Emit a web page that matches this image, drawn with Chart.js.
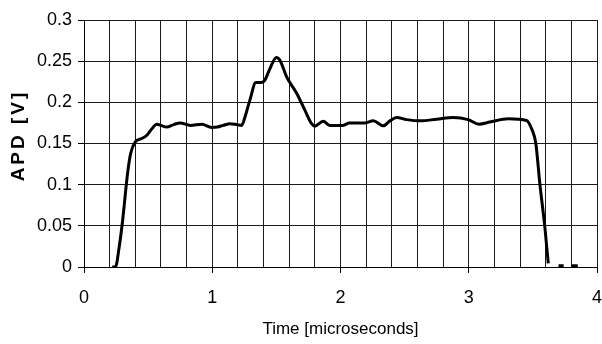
<!DOCTYPE html>
<html><head><meta charset="utf-8">
<script src="https://cdn.jsdelivr.net/npm/chart.js@4/dist/chart.umd.min.js"></script>
<style>html,body{margin:0;padding:0;background:#fff;}#wrap{width:602px;height:344px;position:relative}</style>
</head><body><div id="wrap"><canvas id="c"></canvas></div>
<script>
const timeUs = [0.22, 0.245, 0.275, 0.30, 0.34, 0.364, 0.40, 0.45, 0.49, 0.53, 0.567, 0.60, 0.645, 0.70, 0.75, 0.83, 0.92, 0.995, 1.04, 1.086, 1.138, 1.19, 1.229, 1.255, 1.294, 1.34, 1.385, 1.41, 1.45, 1.50, 1.528, 1.58, 1.658, 1.722, 1.775, 1.80, 1.865, 1.917, 2.02, 2.07, 2.19, 2.255, 2.333, 2.385, 2.437, 2.515, 2.62, 2.75, 2.88, 2.995, 3.08, 3.164, 3.307, 3.45, 3.49, 3.523, 3.554, 3.593, 3.62, 3.65, 3.70, 3.74, 3.77, 3.80, 3.85];
const apdV = [0, 0, 0.025, 0.055, 0.114, 0.138, 0.152, 0.156, 0.160, 0.168, 0.1735, 0.172, 0.170, 0.173, 0.175, 0.172, 0.1735, 0.1695, 0.170, 0.172, 0.174, 0.173, 0.172, 0.182, 0.203, 0.224, 0.224, 0.227, 0.241, 0.2545, 0.251, 0.231, 0.211, 0.1905, 0.174, 0.171, 0.177, 0.172, 0.172, 0.175, 0.175, 0.1775, 0.1715, 0.1775, 0.1815, 0.179, 0.1775, 0.1795, 0.1815, 0.179, 0.1735, 0.176, 0.180, 0.178, 0.168, 0.150, 0.1015, 0.049, 0.0045, null, 0.0015, 0.0015, null, 0.0015, 0.0015];
const xTickLabels = ['0', '1', '2', '3', '4'];
const yTickLabels = ['0', '0.05', '0.1', '0.15', '0.2', '0.25', '0.3'];
const xTitle = 'Time [microseconds]';
const yTitle = 'APD [V]';

const points = timeUs.map((t, i) => ({x: t, y: apdV[i]}));
const FONT = '"Liberation Sans", Arial, sans-serif';
const isInt = v => Math.abs(v - Math.round(v)) < 1e-6;

const titlesPlugin = {
  id: 'titles',
  afterDraw(chart) {
    const ctx = chart.ctx;
    const a = chart.chartArea;
    ctx.save();
    ctx.fillStyle = '#000';
    ctx.font = '17px ' + FONT;
    ctx.textAlign = 'center';
    ctx.textBaseline = 'middle';
    ctx.fillText(xTitle, (a.left + a.right) / 2, 329);
    ctx.translate(19, 137);
    ctx.rotate(-Math.PI / 2);
    ctx.font = 'bold 19px ' + FONT;
    try { ctx.letterSpacing = '3px'; } catch (e) {}
    ctx.fillText(yTitle, 1.5, 0);
    ctx.restore();
  }
};

new Chart(document.getElementById('c'), {
  type: 'line',
  data: {datasets: [{data: points, borderColor: '#000', borderWidth: 3, pointRadius: 0, cubicInterpolationMode: 'monotone', fill: false, spanGaps: false}]},
  options: {
    responsive: true, maintainAspectRatio: false, animation: false,
    layout: {padding: {top: 20, right: 5, left: 0, bottom: 0}},
    plugins: {legend: {display: false}, tooltip: {enabled: false}},
    scales: {
      x: {
        type: 'linear', min: 0, max: 4,
        afterFit(s) { s.height = 77; s.paddingLeft = 0; s.paddingRight = 0; },
        border: {color: '#000', width: 1},
        grid: {color: '#1a1a1a', lineWidth: 1, drawTicks: true, tickLength: 6,
          tickColor: c => (c.tick && isInt(c.tick.value)) ? '#000' : 'rgba(0,0,0,0)'},
        ticks: {stepSize: 0.2, autoSkip: false, maxRotation: 0, color: '#000', padding: 14,
          font: {family: FONT, size: 18},
          callback: v => isInt(v) ? xTickLabels[Math.round(v)] : ''}
      },
      y: {
        min: 0, max: 0.3,
        afterFit(s) { s.width = 84; s.paddingTop = 0; s.paddingBottom = 0; },
        border: {color: '#000', width: 1},
        grid: {color: '#1a1a1a', lineWidth: 1, tickLength: 6, tickColor: '#000'},
        ticks: {stepSize: 0.05, color: '#000', padding: 6,
          font: {family: FONT, size: 18},
          callback: v => yTickLabels[Math.round(v / 0.05)]}
      }
    }
  },
  plugins: [titlesPlugin]
});
</script></body></html>
